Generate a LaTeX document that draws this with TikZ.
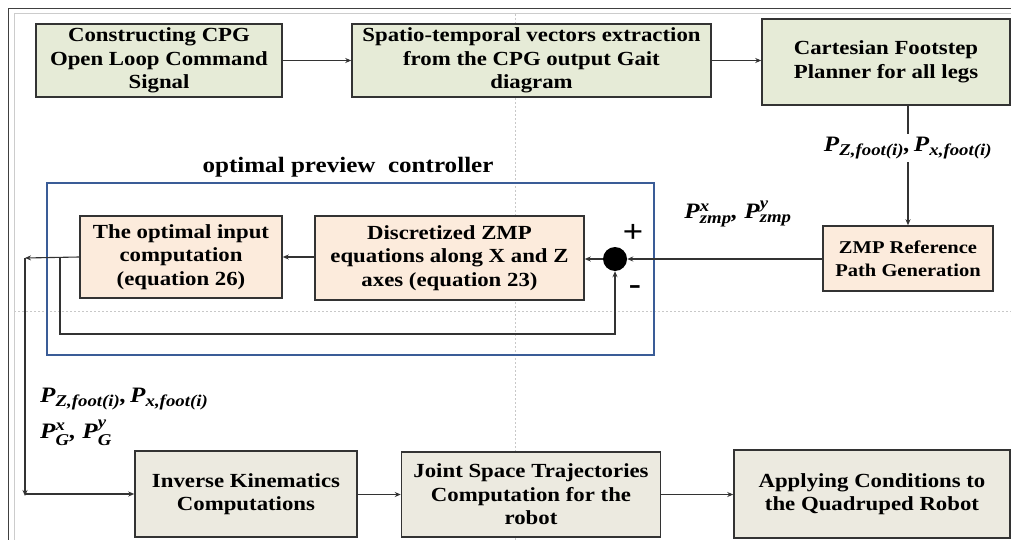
\documentclass[tikz,border=0pt]{standalone}
\usepackage{fontspec}
\usepackage{amsmath}
\setmainfont{Liberation Serif}[FakeStretch=1.14]
\usetikzlibrary{arrows.meta}
\DeclareMathSizes{22}{22}{16.5}{12}
\newcommand\bi[1]{\textbf{\textit{#1}}}
\definecolor{boxline}{HTML}{333333}
\definecolor{greenfill}{HTML}{E6EBD7}
\definecolor{peachfill}{HTML}{FCEBDC}
\definecolor{tanfill}{HTML}{ECEAE0}
\definecolor{ctrlblue}{HTML}{3A5C97}
\definecolor{guide}{HTML}{C8C8C8}

\begin{document}
\begin{tikzpicture}[x=1pt,y=-1pt,
  blk/.style={draw=boxline, line width=1.5pt, align=center,
    font=\fontsize{20}{23.5}\selectfont\bfseries, inner sep=0pt},
  arr/.style={-{Stealth[length=6pt,width=5pt]}, line width=1.1pt, draw=boxline},
  lbl/.style={font=\fontsize{22}{26}\selectfont, inner sep=0pt}]

\useasboundingbox (0,0) rectangle (1011,540);
\fill[white] (0,0) rectangle (1011,540);

% page frame and guides
\draw[guide, line width=0.7pt, dash pattern=on 2pt off 2pt] (515,14) -- (515,540);
\draw[guide, line width=0.7pt, dash pattern=on 2pt off 2pt] (14,311) -- (1011,311);
\draw[black!75, line width=1pt] (8,540) -- (8,9) -- (1011,9);
\draw[black!20, line width=1pt] (14,540) -- (14,14) -- (1011,14);

% top row
\node[blk, fill=greenfill, minimum width=246pt, minimum height=73pt] (cpg) at (159,60.5)
  {Constructing CPG\\Open Loop Command\\Signal};
\node[blk, fill=greenfill, minimum width=359pt, minimum height=73pt] (spt) at (531.5,60.5)
  {Spatio-temporal vectors extraction\\from the CPG output Gait\\diagram};
\node[blk, fill=greenfill, minimum width=248pt, minimum height=86pt] (cfp) at (886,62)
  {Cartesian Footstep\\Planner for all legs};

% controller block
\draw[ctrlblue, line width=1.8pt] (47,183) rectangle (654,355);
\node[font=\fontsize{22}{26}\selectfont\bfseries] (ctitle) at (348,167) {optimal preview~~controller};

\node[blk, fill=peachfill, minimum width=202pt, minimum height=82pt] (opt) at (181,257)
  {The optimal input\\computation\\(equation 26)};
\node[blk, fill=peachfill, minimum width=269pt, minimum height=84pt] (dzm) at (449.5,258)
  {Discretized ZMP\\equations along X and Z\\axes (equation 23)};
\node[circle, fill=black, minimum size=24pt, inner sep=0pt] (sum) at (615,259) {};
\node[font=\fontsize{32}{32}\selectfont\bfseries] (plus) at (633,233) {+};
\node[font=\fontsize{32}{32}\selectfont\bfseries] (minus) at (635,290) {-};

\node[blk, fill=peachfill, minimum width=170pt, minimum height=65pt,
  font=\fontsize{18}{23}\selectfont\bfseries] (zref) at (908,258.5)
  {ZMP Reference\\Path Generation};

% bottom row
\node[blk, fill=tanfill, minimum width=222pt, minimum height=86pt] (ik) at (246,494)
  {Inverse Kinematics\\Computations};
\node[blk, fill=tanfill, minimum width=259pt, minimum height=85pt] (jst) at (531,494.5)
  {Joint Space Trajectories\\Computation for the\\robot};
\node[blk, fill=tanfill, minimum width=276pt, minimum height=88pt] (app) at (872,494)
  {Applying Conditions to\\the Quadruped Robot};

% signal labels
\node[lbl] (lzmp) at (738,214)
  {$\bi{P}^{\bi{x}}_{\bi{zmp}}\bi{,}\ \bi{P}^{\bi{y}}_{\bi{zmp}}$};
\node[lbl, anchor=west] (lfoot) at (40,399)
  {$\bi{P}_{\bi{Z,foot(i)}}\bi{,}\,\bi{P}_{\bi{x,foot(i)}}$};
\node[lbl, anchor=west] (lg) at (40,433)
  {$\bi{P}^{\bi{x}}_{\bi{G}}\bi{,}\ \bi{P}^{\bi{y}}_{\bi{G}}$};

% connectors
\coordinate (cfpout) at (908,105);
\coordinate (tl) at (25,258);
\coordinate (bl) at (25,494);
\coordinate (br) at (60,258);
\coordinate (fb1) at (60,334);
\coordinate (fb2) at (615,334);

\draw[arr] (cpg.east) -- (spt.west);
\draw[arr] (spt.east) -- (spt.east -| cfp.west);
\draw[arr] (cfpout) -- (zref.north)
  node[lbl, pos=0.36, fill=white, inner sep=3pt] (lref)
  {$\bi{P}_{\bi{Z,foot(i)}}\bi{,}\,\bi{P}_{\bi{x,foot(i)}}$};
\draw[arr] (zref.west |- sum) -- (sum.east);
\draw[arr] (sum.west) -- (sum -| dzm.east);
\draw[arr] (dzm.west |- opt) -- (opt.east);
\draw[arr] (opt.west) -- (tl);
\draw[arr] (tl) -- ([yshift=-2pt]bl);
\draw[arr] (bl) -- (ik.west);
\draw[arr] (br) -- (fb1) -- (fb2) -- (sum.south);
\draw[arr] (ik.east |- jst) -- (jst.west);
\draw[arr] (jst.east) -- (jst.east -| app.west);

\end{tikzpicture}
\end{document}
